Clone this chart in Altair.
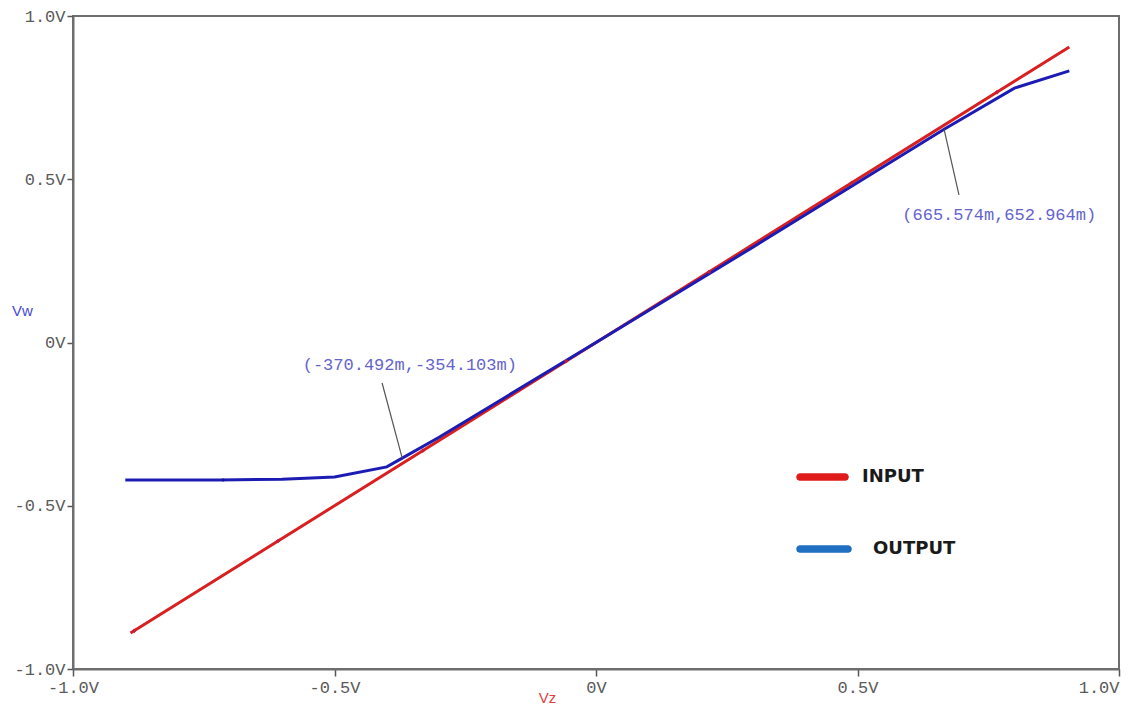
import altair as alt
import pandas as pd

# INPUT trace (Vz -> Vz)
input_x = [-0.89, 0.905]
input_y = [-0.89, 0.905]

# OUTPUT trace (Vw vs Vz)
output_x = [-0.90, -0.72, -0.60, -0.50, -0.40, -0.3705, -0.30, 0.0, 0.30, 0.6656, 0.80, 0.905]
output_y = [-0.421, -0.421, -0.419, -0.412, -0.381, -0.354, -0.290, 0.0, 0.292, 0.653, 0.779, 0.832]

# trace markers
input_marker_x = [-0.883, -0.608, -0.331, -0.057, 0.216, 0.489, 0.767]
output_marker_x = [-0.713]
output_marker_y = [-0.421]

# cursor annotations: point, label position, label text
ann_px = [-0.3705, 0.6656]
ann_py = [-0.354, 0.653]
ann_lx = [-0.409, 0.694]
ann_ly = [-0.124, 0.452]
ann_tx = [-0.356, 0.771]
ann_ty = [-0.069, 0.390]
ann_text = ["(-370.492m,-354.103m)", "(665.574m,652.964m)"]

legend_names = ["INPUT", "OUTPUT"]
legend_colors = ["#e01b1b", "#1f6fc2"]

RED = "#d92020"
BLUE = "#1c1cb4"
MONO = "Liberation Mono"

xs = alt.Scale(domain=[-1, 1], nice=False, zero=False)
ys = alt.Scale(domain=[-1, 1], nice=False, zero=False)

lbl = "(datum.value < 0 ? '-' : '') + (datum.value == 0 ? '0' : format(abs(datum.value), '.1f')) + 'V'"

xaxis = alt.Axis(values=[-1, -0.5, 0, 0.5, 1], labelExpr=lbl, grid=False,
                 labelFont=MONO, labelFontSize=17, labelColor="#5a5a5a",
                 labelAlign=alt.ExprRef(expr="datum.value >= 1 ? 'right' : 'center'"),
                 tickColor="#555", tickSize=7, tickWidth=1.5, labelPadding=3,
                 domainColor="#6e6e6e", domainWidth=2,
                 title="Vz", titleColor="#e04040", titleFont="Liberation Sans",
                 titleFontSize=15, titleFontWeight="normal", titleX=474, titleY=28,
                 titleAlign="center", titleBaseline="middle", labelFlush=False)
yaxis = alt.Axis(values=[-1, -0.5, 0, 0.5, 1], labelExpr=lbl, grid=False,
                 labelFont=MONO, labelFontSize=17, labelColor="#5a5a5a",
                 tickColor="#555", tickSize=6, tickWidth=1.5, labelPadding=2,
                 domainColor="#6e6e6e", domainWidth=2,
                 title="Vw", titleColor="#4848d8", titleFont="Liberation Sans",
                 titleFontSize=15, titleFontWeight="normal", titleAngle=0,
                 titleX=-51, titleY=294, titleAlign="center", titleBaseline="middle",
                 labelFlush=False)

df_in = pd.DataFrame({"x": input_x, "y": input_y})
df_out = pd.DataFrame({"x": output_x, "y": output_y})
df_inm = pd.DataFrame({"x": input_marker_x, "y": input_marker_x})
df_outm = pd.DataFrame({"x": output_marker_x, "y": output_marker_y})
df_lead = pd.DataFrame({"x": ann_px, "y": ann_py, "x2": ann_lx, "y2": ann_ly})
df_ann = pd.DataFrame({"x": ann_tx, "y": ann_ty, "t": ann_text})

red_line = alt.Chart(df_in).mark_line(color=RED, strokeWidth=3).encode(
    x=alt.X("x:Q", scale=xs, axis=xaxis), y=alt.Y("y:Q", scale=ys, axis=yaxis))
blue_line = alt.Chart(df_out).mark_line(color=BLUE, strokeWidth=3).encode(
    x=alt.X("x:Q", scale=xs), y=alt.Y("y:Q", scale=ys))
red_marks = alt.Chart(df_inm).mark_point(shape="diamond", filled=True, color="#c02040", size=22, opacity=0.9).encode(
    x=alt.X("x:Q", scale=xs), y=alt.Y("y:Q", scale=ys))
blue_marks = alt.Chart(df_outm).mark_point(shape="diamond", filled=True, color="#101090", size=16).encode(
    x=alt.X("x:Q", scale=xs), y=alt.Y("y:Q", scale=ys))
leaders = alt.Chart(df_lead).mark_rule(color="#555555", strokeWidth=1.2).encode(
    x=alt.X("x:Q", scale=xs), y=alt.Y("y:Q", scale=ys), x2="x2:Q", y2="y2:Q")
ann = alt.Chart(df_ann).mark_text(font=MONO, fontSize=17, color="#6464cc", align="center", baseline="middle").encode(
    x=alt.X("x:Q", scale=xs), y=alt.Y("y:Q", scale=ys), text="t:N")

# legend drawn by hand
leg_layers = []
leg_y = [461, 533]
leg_x1 = [727, 727]
leg_x2 = [772, 775]
leg_tx = [789, 800]
for i, name in enumerate(legend_names):
    leg_layers.append(alt.Chart(df_in).mark_rule(color=legend_colors[i], strokeWidth=7, strokeCap="round").encode(
        x=alt.value(leg_x1[i]), x2=alt.value(leg_x2[i]), y=alt.value(leg_y[i])))
    leg_layers.append(alt.Chart(pd.DataFrame({"t": [name]})).mark_text(
        font="DejaVu Sans", fontWeight="bold", fontSize=18, color="#1a1a1a", align="left", baseline="middle").encode(
        x=alt.value(leg_tx[i]), y=alt.value(leg_y[i]), text="t:N"))

chart = alt.layer(red_line, blue_line, red_marks, blue_marks, leaders, ann, *leg_layers).properties(
    width=1046, height=653,
    autosize=alt.AutoSizeParams(type="none"),
    padding={"left": 73, "top": 16, "right": 9, "bottom": 37},
    background="white",
).configure_view(stroke="#6e6e6e", strokeWidth=2)

chart.save("out.html", embed_options={"renderer": "svg", "actions": False})
